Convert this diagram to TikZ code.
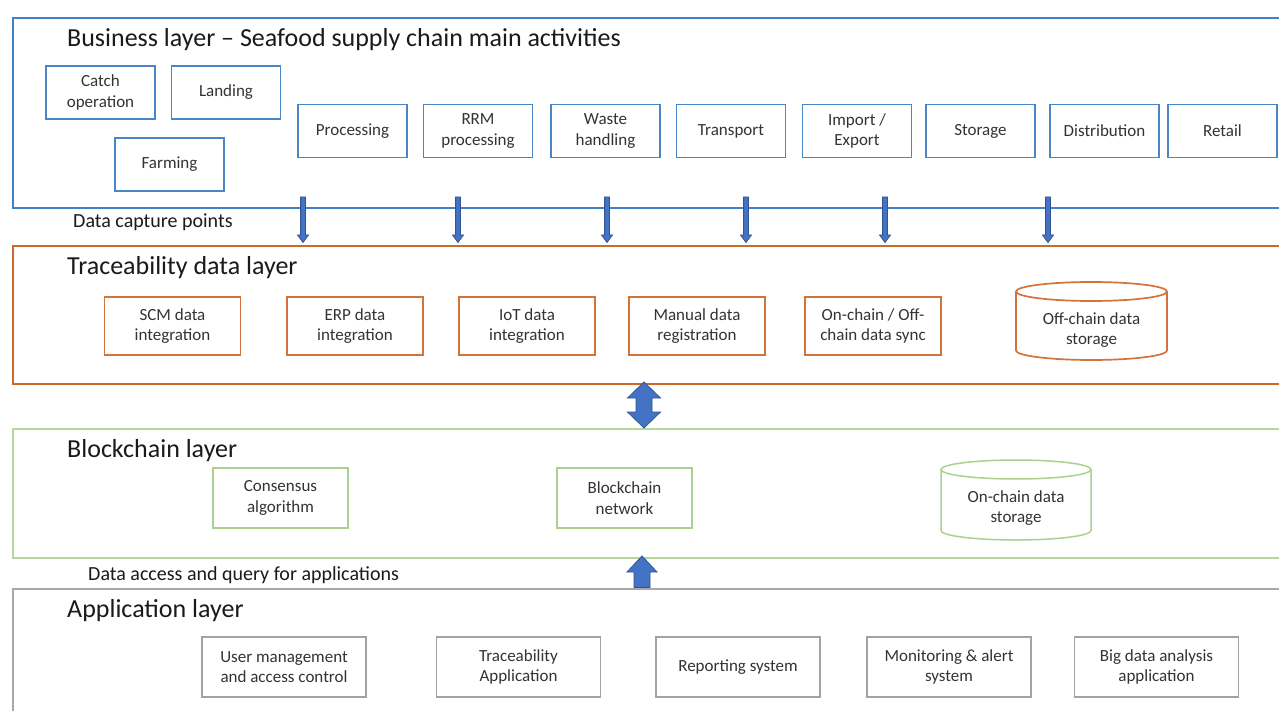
\documentclass[tikz,border=0pt]{standalone}
\usepackage{fontspec}
\setmainfont{Carlito}
\definecolor{lblue}{HTML}{4281C8}
\definecolor{bblue}{HTML}{4A86C6}
\definecolor{lorange}{HTML}{CC6A2C}
\definecolor{borange}{HTML}{D2743A}
\definecolor{lgreen}{HTML}{B3D99A}
\definecolor{bgreen}{HTML}{AAD18F}
\definecolor{lgray}{HTML}{A8A8A8}
\definecolor{bgray}{HTML}{A3A3A3}
\definecolor{afill}{HTML}{4472C4}
\definecolor{aline}{HTML}{2F5597}
\definecolor{tdark}{HTML}{1A1A1A}
\definecolor{tbox}{HTML}{333333}
\begin{document}
\begin{tikzpicture}[x=1pt,y=-1pt,
  layer/.style={draw, line width=2.2pt, minimum width=1278, anchor=north west, inner sep=0pt},
  boxtext/.style={align=center, inner sep=0pt, text=tbox, font=\fontsize{17}{20.5}\selectfont},
  bbox/.style={boxtext, draw=bblue, line width=1.7pt, minimum width=109, minimum height=53},
  obox/.style={boxtext, draw=borange, line width=1.7pt, minimum width=136, minimum height=58},
  gbox/.style={boxtext, draw=bgreen, line width=1.5pt, minimum width=135, minimum height=60},
  abox/.style={boxtext, draw=bgray, line width=1.5pt, minimum width=164, minimum height=60},
  ltitle/.style={anchor=base west, inner sep=0pt, text=tdark, font=\fontsize{26}{30}\selectfont},
  lnote/.style={anchor=base west, inner sep=0pt, text=tdark, font=\fontsize{20}{24}\selectfont},
  arr/.style={fill=afill, draw=aline, line width=0.8pt, line join=miter}
]
\clip (0,0) rectangle (1279,711);
\fill[white] (0,0) rectangle (1279,711);

% layers
\node[layer, draw=lblue, minimum height=190] (business) at (12,17) {};
\node[layer, draw=lorange, minimum height=138] (trace) at (12,245) {};
\node[layer, draw=lgreen, minimum height=129] (chain) at (12,428) {};
\node[layer, draw=lgray, minimum height=140] (app) at (12,588) {};

% titles
\node[ltitle] (t1) at (67,47) {Business layer -- Seafood supply chain main activities};
\node[ltitle] (t2) at (67,275) {Traceability data layer};
\node[ltitle] (t3) at (67,457) {Blockchain layer};
\node[ltitle] (t4) at (67,617) {Application layer};
\node[lnote] (n1) at (73,228) {Data capture points};
\node[lnote] (n2) at (88,580) {Data access and query for applications};

% business boxes
\node[bbox] (catch) at (100.5,92.5) {Catch\\operation};
\node[bbox] (landing) at (226,92.5) {Landing};
\node[bbox] (farming) at (169.5,164.5) {Farming};
\node[bbox] (proc) at (352.5,131) {Processing};
\node[bbox] (rrm) at (478,131) {RRM\\processing};
\node[bbox] (waste) at (605.5,131) {Waste\\handling};
\node[bbox] (transport) at (731,131) {Transport};
\node[bbox] (impexp) at (857,131) {Import /\\Export};
\node[bbox] (storage) at (980.5,131) {Storage};
\node[bbox] (distr) at (1104.5,131) {Distribution};
\node[bbox] (retail) at (1222.5,131) {Retail};

% data capture arrows
\foreach \x in {303,458,607,746,885,1048}{
  \filldraw[arr] (\x-2.4,197) -- (\x+2.4,197) -- (\x+2.4,235) -- (\x+5.5,235)
    -- (\x,242.5) -- (\x-5.5,235) -- (\x-2.4,235) -- cycle;
}

% traceability boxes
\node[obox] (scm) at (172.5,326) {SCM data\\integration};
\node[obox] (erp) at (355,326) {ERP data\\integration};
\node[obox] (iot) at (527,326) {IoT data\\integration};
\node[obox] (manual) at (697,326) {Manual data\\registration};
\node[obox] (sync) at (873,326) {On-chain / Off-\\chain data sync};
% off-chain cylinder
\draw[draw=borange, line width=1.7pt] (1091.5,291.5) ellipse [x radius=75.5pt, y radius=9.5pt];
\draw[draw=borange, line width=1.7pt] (1016,291.5) -- (1016,350.5)
  arc[start angle=180, end angle=360, x radius=75.5pt, y radius=9.5pt] -- (1167,291.5);
\node[boxtext] (offstore) at (1091.5,330) {Off-chain data\\storage};

% double arrow between traceability and blockchain layers
\filldraw[arr] (644,382) -- (660.5,398) -- (652,398) -- (652,412) -- (660.5,412)
  -- (644,428) -- (627.5,412) -- (636,412) -- (636,398) -- (627.5,398) -- cycle;

% blockchain boxes
\node[gbox] (consensus) at (280.5,498) {Consensus\\algorithm};
\node[gbox] (network) at (624.5,498) {Blockchain\\network};
\draw[draw=bgreen, line width=1.5pt] (1016,469.5) ellipse [x radius=75pt, y radius=9.5pt];
\draw[draw=bgreen, line width=1.5pt] (941,469.5) -- (941,530.5)
  arc[start angle=180, end angle=360, x radius=75pt, y radius=9.5pt] -- (1091,469.5);
\node[boxtext] (onstore) at (1016,508) {On-chain data\\storage};

% up arrow
\filldraw[arr] (642,556) -- (657,572) -- (650,572) -- (650,587.5) -- (634,587.5)
  -- (634,572) -- (627,572) -- cycle;

% application boxes
\node[abox] (user) at (284,667) {User management\\and access control};
\node[abox] (traceapp) at (518.5,667) {Traceability\\Application};
\node[abox] (report) at (738,667) {Reporting system};
\node[abox] (monitor) at (949,667) {Monitoring \& alert\\system};
\node[abox] (bigdata) at (1156.5,667) {Big data analysis\\application};
\end{tikzpicture}
\end{document}
